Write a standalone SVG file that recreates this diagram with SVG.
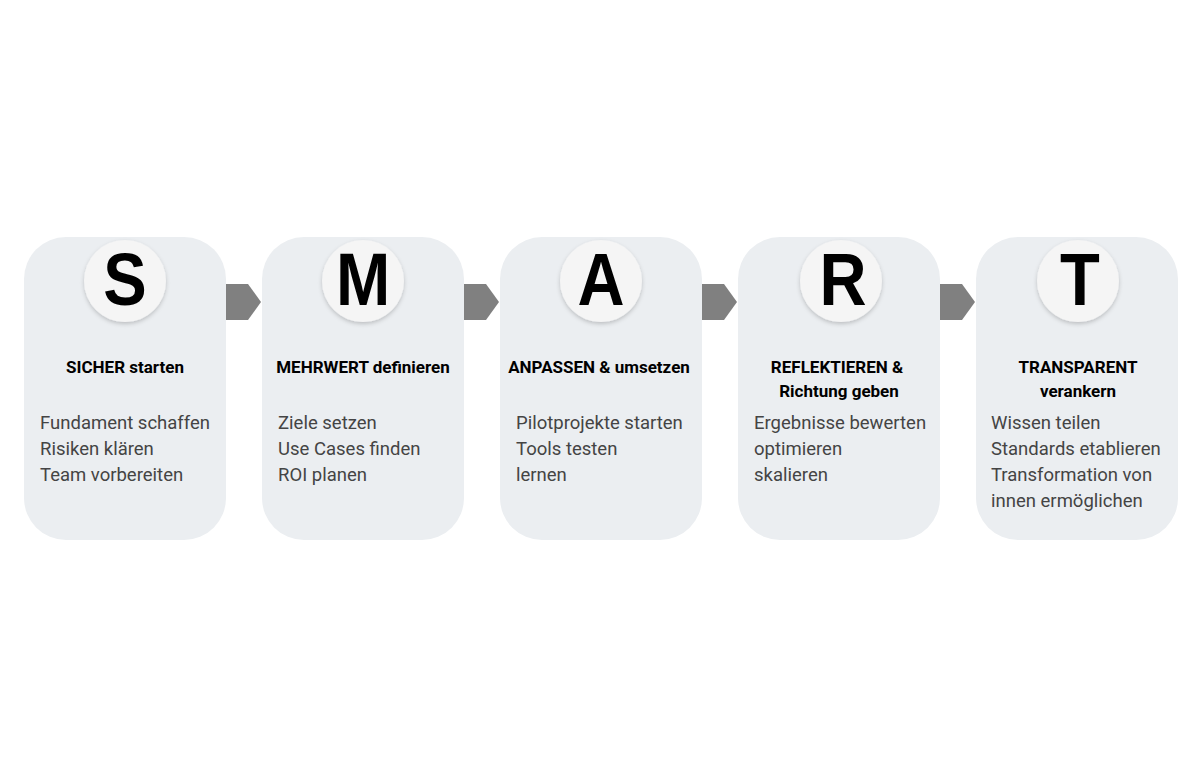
<svg xmlns="http://www.w3.org/2000/svg" width="1200" height="770" viewBox="0 0 1200 770">
<defs>
<filter id="sh" x="-30%" y="-30%" width="160%" height="170%">
<feDropShadow dx="0" dy="2" stdDeviation="2" flood-color="#000" flood-opacity="0.2"/>
</filter>
<style>
.card{fill:#ebeef1}
.circ{fill:#f5f5f5;filter:url(#sh)}
.letter{font-family:"Liberation Sans",Arial,sans-serif;font-weight:bold;font-size:74px;fill:#000;text-anchor:middle}
.title{font-family:Roboto,"Liberation Sans",sans-serif;font-weight:bold;font-size:17px;fill:#000;text-anchor:middle}
.body{font-family:Roboto,"Liberation Sans",sans-serif;font-size:18.5px;fill:#444}
.arrow{fill:#808080}
</style>
</defs>
<rect width="1200" height="770" fill="#fff"/>
<g id="connectors">
<polygon class="arrow" points="226,284 248,284 261,302 248,320 226,320"/>
<polygon class="arrow" points="464,284 486,284 499,302 486,320 464,320"/>
<polygon class="arrow" points="702,284 724,284 737,302 724,320 702,320"/>
<polygon class="arrow" points="940,284 962,284 975,302 962,320 940,320"/>
</g>
<g id="node-s">
<rect class="card" x="24" y="237" width="202" height="303" rx="42"/>
<circle class="circ" cx="125" cy="281" r="41"/>
<text class="letter" transform="translate(125,305) scale(0.88,1)">S</text>
<text class="title" x="125" y="373">SICHER starten</text>
<text class="body" x="40" y="429">Fundament schaffen</text>
<text class="body" x="40" y="455">Risiken klären</text>
<text class="body" x="40" y="481">Team vorbereiten</text>
</g>
<g id="node-m">
<rect class="card" x="262" y="237" width="202" height="303" rx="42"/>
<circle class="circ" cx="363" cy="281" r="41"/>
<text class="letter" transform="translate(363,305) scale(0.88,1)">M</text>
<text class="title" x="363" y="373">MEHRWERT definieren</text>
<text class="body" x="278" y="429">Ziele setzen</text>
<text class="body" x="278" y="455">Use Cases finden</text>
<text class="body" x="278" y="481">ROI planen</text>
</g>
<g id="node-a">
<rect class="card" x="500" y="237" width="202" height="303" rx="42"/>
<circle class="circ" cx="601" cy="281" r="41"/>
<text class="letter" transform="translate(601,305) scale(0.88,1)">A</text>
<text class="title" x="599" y="373">ANPASSEN &amp; umsetzen</text>
<text class="body" x="516" y="429">Pilotprojekte starten</text>
<text class="body" x="516" y="455">Tools testen</text>
<text class="body" x="516" y="481">lernen</text>
</g>
<g id="node-r">
<rect class="card" x="738" y="237" width="202" height="303" rx="42"/>
<circle class="circ" cx="841" cy="281" r="41"/>
<text class="letter" transform="translate(843,305) scale(0.88,1)">R</text>
<text class="title" x="837" y="373">REFLEKTIEREN &amp;</text>
<text class="title" x="839" y="397">Richtung geben</text>
<text class="body" x="754" y="429">Ergebnisse bewerten</text>
<text class="body" x="754" y="455">optimieren</text>
<text class="body" x="754" y="481">skalieren</text>
</g>
<g id="node-t">
<rect class="card" x="976" y="237" width="202" height="303" rx="42"/>
<circle class="circ" cx="1078" cy="281" r="41"/>
<text class="letter" transform="translate(1080,305) scale(0.88,1)">T</text>
<text class="title" x="1078" y="373">TRANSPARENT</text>
<text class="title" x="1078" y="397">verankern</text>
<text class="body" x="991" y="429">Wissen teilen</text>
<text class="body" x="991" y="455">Standards etablieren</text>
<text class="body" x="991" y="481">Transformation von</text>
<text class="body" x="991" y="507">innen ermöglichen</text>
</g>
</svg>
